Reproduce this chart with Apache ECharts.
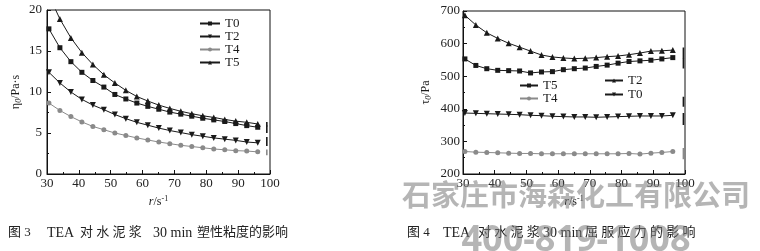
<!DOCTYPE html>
<html>
<head>
<meta charset="utf-8">
<script src="https://cdn.jsdelivr.net/npm/echarts@6/dist/echarts.min.js"></script>
<style>
html,body{margin:0;padding:0;background:#fff;}
#c{width:760px;height:251px;}
</style>
</head>
<body>
<div id="c"></div>
<script>
// Shear rate (s^-1) sample points
var shearRate = [30.6, 34.05, 37.5, 40.95, 44.4, 47.85, 51.3, 54.75, 58.2, 61.65, 65.1, 68.55, 72.0, 75.45, 78.9, 82.35, 85.8, 89.25, 92.7, 96.15];
var xTicks = [30, 40, 50, 60, 70, 80, 90, 100];

// Fig. 3 plastic viscosity (Pa·s)
var visT0 = [17.7, 15.4, 13.7, 12.4, 11.4, 10.6, 9.7, 9.15, 8.65, 8.25, 7.9, 7.55, 7.3, 7.05, 6.8, 6.6, 6.4, 6.15, 5.9, 5.7];
var visT2 = [12.4, 11.1, 10.0, 9.1, 8.4, 7.85, 7.25, 6.75, 6.3, 5.95, 5.6, 5.3, 5.05, 4.8, 4.6, 4.4, 4.25, 4.1, 3.9, 3.8];
var visT4 = [8.65, 7.75, 7.0, 6.35, 5.8, 5.4, 5.0, 4.7, 4.4, 4.15, 3.9, 3.7, 3.5, 3.35, 3.2, 3.05, 2.95, 2.85, 2.8, 2.7];
var visT5 = [21.8, 18.9, 16.6, 14.8, 13.35, 12.1, 11.1, 10.2, 9.45, 8.9, 8.4, 8.0, 7.65, 7.35, 7.1, 6.9, 6.65, 6.45, 6.3, 6.1];
var visTicks = [0, 5, 10, 15, 20];
// vertical end strokes at the last shear rate (Fig. 3)
var visEndX = 99.0;
var visEndT0 = [5.0, 5.9];
var visEndT5 = [5.8, 6.35];
var visEndT2 = [3.4, 4.5];
var visEndT4 = [2.3, 3.0];

// Fig. 4 yield stress (Pa)
var ysT2 = [687, 657, 633, 616, 601, 589, 577, 565, 559, 556, 554, 555, 557, 560, 562, 566, 571, 577, 578, 580];
var ysT5 = [553, 533, 523, 518, 517, 516, 510, 513, 514, 520, 523, 525, 530, 534, 540, 545, 547, 549, 553, 557];
var ysT0 = [387, 386, 385, 384, 383, 382, 380, 379, 377, 376, 375, 375, 374, 375, 376, 377, 378, 378, 378, 380];
var ysT4 = [269, 267, 266, 265, 264, 263, 263, 262, 262, 262, 262, 262, 262, 262, 262, 263, 261, 264, 266, 269];
var ysTicks = [200, 300, 400, 500, 600, 700];
var ysEndX = 99.5;
var ysEndUpper = [555, 588];
var ysEndT5 = [524, 556];
var ysEndMid = [406, 437];
var ysEndT0 = [350, 387];
var ysEndT4 = [245, 280];

var names = ['T0', 'T2', 'T4', 'T5'];

function pairs(xs, ys) { return xs.map(function (x, i) { return [x, ys[i]]; }); }
function endBar(x, r) { return [[x, r[0]], [x, r[1]]]; }

var SERIF = '"Liberation Serif","Times New Roman",serif';
var CAP = '"Liberation Serif","Noto Sans CJK SC",serif';
var DARK = '#1a1a1a';
var GRAY = '#8a8a8a';

// marker styles differ between the two figures
var STY = {
  rect: {symbol: 'rect', rot: 0, c: DARK, size: 5},
  down: {symbol: 'triangle', rot: 180, c: DARK, size: 6},
  circ: {symbol: 'circle', rot: 0, c: GRAY, size: 5},
  up: {symbol: 'triangle', rot: 0, c: DARK, size: 6}
};

function lineSeries(id, label, data, gi, st) {
  var s = STY[st];
  return {
    id: id, name: id, type: 'line', xAxisIndex: gi, yAxisIndex: gi,
    data: data, symbol: s.symbol, symbolRotate: s.rot, symbolSize: s.size,
    showSymbol: true, clip: true, animation: false,
    lineStyle: {color: s.c, width: 1}, itemStyle: {color: s.c},
    z: 3
  };
}
function barSeries(color, data, gi) {
  return {type: 'line', xAxisIndex: gi, yAxisIndex: gi, data: data, symbol: 'none',
          lineStyle: {color: color, width: 1.6}, animation: false, silent: true, z: 2};
}
function stripPrefix(n) { return n.split(':')[1]; }

function xAxisFor(gi) {
  return {
    gridIndex: gi, type: 'value', min: xTicks[0], max: xTicks[xTicks.length - 1], interval: 10,
    name: '{i|r}{a|/s}{s|-1}', nameLocation: 'middle', nameGap: 20,
    nameTextStyle: {rich: {
      i: {fontFamily: SERIF, fontStyle: 'italic', fontSize: 12, color: DARK},
      a: {fontFamily: SERIF, fontSize: 12, color: DARK},
      s: {fontFamily: SERIF, fontSize: 8, color: DARK, verticalAlign: 'top', padding: [0, 0, 6, 0]}
    }},
    axisLine: {show: true, lineStyle: {color: '#111', width: 1}},
    axisTick: {show: true, inside: true, length: 4, lineStyle: {color: '#111'}},
    minorTick: {show: true, splitNumber: 2, length: 2, lineStyle: {color: '#111'}},
    splitLine: {show: false},
    axisLabel: {fontFamily: SERIF, fontSize: 13, color: '#222', margin: 3}
  };
}

var legendText = {fontFamily: SERIF, fontSize: 13, color: DARK, lineHeight: 13};

var option = {
  animation: false,
  backgroundColor: '#ffffff',
  grid: [
    {left: 47, top: 10, width: 223, height: 164, show: true, borderColor: '#111', borderWidth: 1, backgroundColor: 'transparent'},
    {left: 463, top: 11, width: 222, height: 163, show: true, borderColor: '#111', borderWidth: 1, backgroundColor: 'transparent'}
  ],
  xAxis: [xAxisFor(0), xAxisFor(1)],
  yAxis: [
    {gridIndex: 0, type: 'value', min: visTicks[0], max: visTicks[visTicks.length - 1], interval: 5,
     name: '{a|η}{b|0}{a|/Pa·s}', nameLocation: 'middle', nameGap: 24, nameRotate: 90,
     nameTextStyle: {rich: {
       a: {fontFamily: SERIF, fontSize: 12, color: DARK},
       b: {fontFamily: SERIF, fontStyle: 'italic', fontSize: 8, color: DARK, verticalAlign: 'bottom', padding: [6, 0, 0, 0]}
     }},
     axisLine: {show: true, lineStyle: {color: '#111', width: 1}},
     axisTick: {show: true, inside: true, length: 4, lineStyle: {color: '#111'}},
     minorTick: {show: true, splitNumber: 2, length: 2, lineStyle: {color: '#111'}},
     splitLine: {show: false},
     axisLabel: {fontFamily: SERIF, fontSize: 13, color: '#222', margin: 5}
    },
    {gridIndex: 1, type: 'value', min: ysTicks[0], max: ysTicks[ysTicks.length - 1], interval: 100,
     name: '{a|τ}{b|0}{a|/Pa}', nameLocation: 'middle', nameGap: 30, nameRotate: 90,
     nameTextStyle: {rich: {
       a: {fontFamily: SERIF, fontSize: 12, color: DARK},
       b: {fontFamily: SERIF, fontStyle: 'italic', fontSize: 8, color: DARK, verticalAlign: 'bottom', padding: [6, 0, 0, 0]}
     }},
     axisLine: {show: true, lineStyle: {color: '#111', width: 1}},
     axisTick: {show: true, inside: true, length: 4, lineStyle: {color: '#111'}},
     minorTick: {show: true, splitNumber: 2, length: 2, lineStyle: {color: '#111'}},
     splitLine: {show: false},
     axisLabel: {fontFamily: SERIF, fontSize: 13, color: '#222', margin: 3}
    }
  ],
  legend: [
    {data: ['a:T0', 'a:T2', 'a:T4', 'a:T5'], formatter: stripPrefix, orient: 'vertical', left: 199, top: 17, padding: 0,
     itemWidth: 20, itemHeight: 5, itemGap: 0, textStyle: legendText, selectedMode: false},
    {data: ['b:T5', 'b:T4'], formatter: stripPrefix, orient: 'vertical', left: 519, top: 79, padding: 0,
     itemWidth: 18, itemHeight: 5, itemGap: 0, textStyle: legendText, selectedMode: false},
    {data: ['b:T2', 'b:T0'], formatter: stripPrefix, orient: 'vertical', left: 604, top: 74, padding: 0,
     itemWidth: 18, itemHeight: 5, itemGap: 1, textStyle: legendText, selectedMode: false}
  ],
  series: [
    lineSeries('a:T0', 'T0', pairs(shearRate, visT0), 0, 'rect'),
    lineSeries('a:T2', 'T2', pairs(shearRate, visT2), 0, 'down'),
    lineSeries('a:T4', 'T4', pairs(shearRate, visT4), 0, 'circ'),
    lineSeries('a:T5', 'T5', pairs(shearRate, visT5), 0, 'up'),
    barSeries(DARK, endBar(visEndX, visEndT0), 0),
    barSeries(DARK, endBar(visEndX, visEndT5), 0),
    barSeries(DARK, endBar(visEndX, visEndT2), 0),
    barSeries(GRAY, endBar(visEndX, visEndT4), 0),
    lineSeries('b:T0', 'T0', pairs(shearRate, ysT0), 1, 'down'),
    lineSeries('b:T2', 'T2', pairs(shearRate, ysT2), 1, 'up'),
    lineSeries('b:T4', 'T4', pairs(shearRate, ysT4), 1, 'circ'),
    lineSeries('b:T5', 'T5', pairs(shearRate, ysT5), 1, 'rect'),
    barSeries(DARK, endBar(ysEndX, ysEndUpper), 1),
    barSeries(DARK, endBar(ysEndX, ysEndT5), 1),
    barSeries(DARK, endBar(ysEndX, ysEndMid), 1),
    barSeries(DARK, endBar(ysEndX, ysEndT0), 1),
    barSeries(GRAY, endBar(ysEndX, ysEndT4), 1)
  ],
  graphic: [
    {type: 'text', left: 8, top: 226, silent: true,
     style: {text: '图 3', font: '13px ' + CAP, fill: '#222'}},
    {type: 'text', left: 47, top: 226, silent: true,
     style: {text: 'TEA', font: '14px ' + CAP, fill: '#222'}},
    {type: 'text', left: 80, top: 226, silent: true,
     style: {text: '对 水 泥 浆', font: '13px ' + CAP, fill: '#222'}},
    {type: 'text', left: 153, top: 226, silent: true,
     style: {text: '30 min', font: '14px ' + CAP, fill: '#222'}},
    {type: 'text', left: 197, top: 226, silent: true,
     style: {text: '塑性粘度的影响', font: '13px ' + CAP, fill: '#222'}},

    {type: 'text', left: 407, top: 226, silent: true,
     style: {text: '图 4', font: '13px ' + CAP, fill: '#222'}},
    {type: 'text', left: 443, top: 226, silent: true,
     style: {text: 'TEA', font: '14px ' + CAP, fill: '#222'}},
    {type: 'text', left: 478, top: 226, silent: true,
     style: {text: '对 水 泥 浆', font: '13px ' + CAP, fill: '#222'}},
    {type: 'text', left: 543, top: 226, silent: true,
     style: {text: '30 min', font: '14px ' + CAP, fill: '#222'}},
    {type: 'text', left: 585, top: 226, silent: true,
     style: {text: '屈 服 应 力 的 影 响', font: '13px ' + CAP, fill: '#222'}},

    {type: 'text', x: 576, y: 195, z: 100, silent: true,
     style: {text: '石家庄市海森化工有限公司', font: 'bold 29px "Noto Sans CJK SC"', fill: 'rgba(120,120,120,0.55)',
             align: 'center', verticalAlign: 'middle'}},
    {type: 'text', x: 576, y: 241, z: 100, silent: true,
     style: {text: '400-819-1008', font: 'bold 36px "Noto Sans","Liberation Sans",sans-serif', fill: 'rgba(120,120,120,0.55)',
             align: 'center', verticalAlign: 'middle'}}
  ]
};

var chart = echarts.init(document.getElementById('c'), null, {renderer: 'canvas'});
chart.setOption(option);
</script>
</body>
</html>
